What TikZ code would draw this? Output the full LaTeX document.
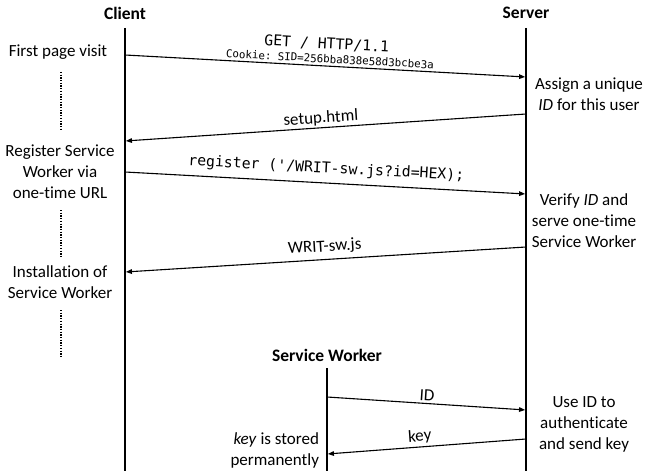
\documentclass[tikz,border=0pt]{standalone}
\usepackage{fontspec}
\setmainfont[Ligatures=NoCommon]{Carlito}
\setmonofont{DejaVu Sans Mono}
\usetikzlibrary{arrows.meta}
\begin{document}
\begin{tikzpicture}[x=1pt,y=-1pt,
  every node/.style={inner sep=0pt, outer sep=0pt},
  txt/.style={font=\fontsize{17}{21}\selectfont, align=center},
  head/.style={font=\fontsize{17.5}{21}\selectfont\bfseries},
  life/.style={line width=1.8pt},
  lifethin/.style={line width=1.3pt},
  msg/.style={line width=1.1pt, -{Triangle[length=6pt,width=4.6pt]}, shorten >=0.9pt},
  lbl/.style={font=\fontsize{17}{21}\selectfont, sloped, anchor=south},
  codebig/.style={font=\fontsize{14.8}{16}\ttfamily, sloped, anchor=south},
  codesmall/.style={font=\fontsize{10.8}{12}\ttfamily, sloped, anchor=south},
  waitline/.style={line width=1.2pt, dash pattern=on 1.3pt off 1.4pt}]
\useasboundingbox (0,0) rectangle (645,476);

% lifeline headers
\node[head] (client) at (125,13) {Client};
\node[head] (server) at (526,13) {Server};
\node[head] (sw) at (327,355) {Service Worker};

% lifelines
\coordinate (ctop) at (125,28); \coordinate (cbot) at (125,471);
\coordinate (stop) at (526,28); \coordinate (sbot) at (526,471);
\coordinate (wtop) at (327,368); \coordinate (wbot) at (327,471);
\draw[life] (ctop) -- (cbot);
\draw[life] (stop) -- (sbot);
\draw[lifethin] (wtop) -- (wbot);

% message end points
\coordinate (m1a) at (125,55);  \coordinate (m1b) at (526,77);
\coordinate (m2a) at (526,114); \coordinate (m2b) at (125,141);
\coordinate (m3a) at (125,172); \coordinate (m3b) at (526,194);
\coordinate (m4a) at (526,247); \coordinate (m4b) at (125,272);
\coordinate (m5a) at (327,397); \coordinate (m5b) at (526,410);
\coordinate (m6a) at (526,439); \coordinate (m6b) at (327,454);

% messages
\draw[msg] (m1a) -- node[codesmall, pos=0.51, yshift=3pt] (cookie) {Cookie: SID=256bba838e58d3bcbe3a}
  node[codebig, pos=0.5, yshift=16pt] (get) {GET / HTTP/1.1} (m1b);
\draw[msg] (m2a) -- node[lbl, pos=0.51, yshift=2pt] (setup) {setup.html} (m2b);
\draw[msg] (m3a) -- node[codebig, pos=0.5, yshift=7pt] (reg) {register ('/WRIT-sw.js?id=HEX);} (m3b);
\draw[msg] (m4a) -- node[lbl, pos=0.5, yshift=5pt] (writ) {WRIT-sw.js} (m4b);
\draw[msg] (m5a) -- node[lbl, pos=0.5, yshift=3pt] (idl) {ID} (m5b);
\draw[msg] (m6a) -- node[lbl, pos=0.53, yshift=3pt] (keyl) {key} (m6b);

% client side notes
\node[txt] (n1) at (58,52) {First page visit};
\node[txt] (n2) at (60,172) {Register Service\\Worker via\\one-time URL};
\node[txt] (n3) at (60,282) {Installation of\\Service Worker};
\node[txt, align=right, anchor=east] (n4) at (319,450) {\textit{key} is stored\\permanently};

% server side notes
\node[txt] (s1) at (589,94) {Assign a unique\\\textit{ID} for this user};
\node[txt] (s2) at (584,221) {Verify \textit{ID} and\\serve one-time\\Service Worker};
\node[txt] (s3) at (584,424) {Use ID to\\authenticate\\and send key};

% waiting periods on the client
\coordinate (d1a) at (61,72);  \coordinate (d1b) at (61,130);
\coordinate (d2a) at (61,210); \coordinate (d2b) at (61,256);
\coordinate (d3a) at (61,310); \coordinate (d3b) at (61,356);
\draw[waitline] (d1a) -- (d1b);
\draw[waitline] (d2a) -- (d2b);
\draw[waitline] (d3a) -- (d3b);
\end{tikzpicture}
\end{document}
